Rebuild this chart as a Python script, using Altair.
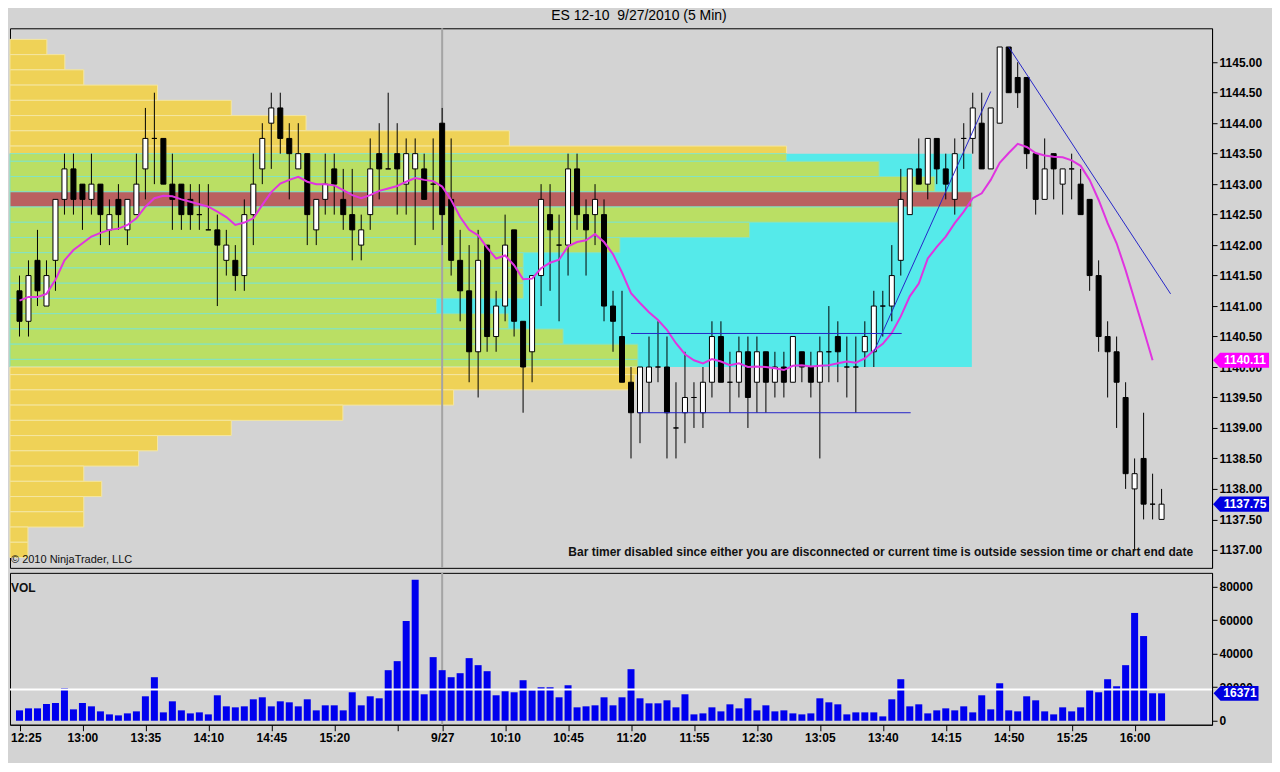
import altair as alt
import pandas as pd

# ---------------- data ----------------
opens = [
    1141.25, 1140.75, 1141.75, 1141.0, 1141.75, 1142.75, 1143.25, 1143.0, 1142.75, 1143.0,
    1142.25, 1142.75, 1142.25, 1142.5, 1143.25, 1143.75, 1143.75, 1143.0, 1143.0, 1142.75,
    1142.5, 1142.25, 1142.25, 1141.75, 1141.75, 1141.5, 1142.5, 1143.25, 1144.0, 1144.25,
    1143.75, 1143.25, 1143.5, 1142.25, 1142.75, 1143.25, 1142.75, 1142.5, 1142.0, 1142.5,
    1143.5, 1143.25, 1143.5, 1143.0, 1143.25, 1143.25, 1143.0, 1144.0, 1142.75, 1141.75,
    1141.25, 1140.25, 1142.0, 1140.5, 1141.0, 1142.25, 1140.75, 1140.25, 1141.5, 1142.5,
    1142.0, 1142.0, 1143.25, 1142.5, 1142.5, 1142.5, 1141.0, 1140.5, 1139.75, 1139.25,
    1139.75, 1140.0, 1140.0, 1139.0, 1139.25, 1139.5, 1139.25, 1139.75, 1140.5, 1139.75,
    1139.75, 1140.25, 1139.75, 1140.25, 1139.75, 1140.0, 1139.75, 1140.25, 1140.0, 1139.75,
    1140.25, 1140.5, 1140.0, 1140.0, 1140.25, 1140.25, 1141.0, 1141.0, 1141.75, 1142.5,
    1143.25, 1143.0, 1143.75, 1143.25, 1142.75, 1143.75, 1143.75, 1144.0, 1143.25, 1144.0,
    1145.25, 1144.75, 1144.75, 1143.5, 1142.75, 1143.5, 1143.0, 1143.25, 1143.0, 1142.75,
    1141.5, 1140.5, 1140.25, 1139.5, 1138.0, 1138.5, 1137.75, 1137.5]
highs = [
    1141.5, 1141.75, 1142.25, 1141.75, 1142.75, 1143.5, 1143.5, 1143.0, 1143.5, 1143.0,
    1142.75, 1143.0, 1142.75, 1143.5, 1144.25, 1144.5, 1143.75, 1143.5, 1143.0, 1143.0,
    1143.0, 1143.0, 1142.5, 1142.25, 1142.0, 1142.75, 1143.5, 1144.0, 1144.5, 1144.5,
    1144.0, 1144.0, 1143.5, 1142.75, 1143.5, 1143.5, 1143.25, 1143.25, 1142.5, 1143.75,
    1144.0, 1144.5, 1144.0, 1143.75, 1143.75, 1143.5, 1143.75, 1144.25, 1143.75, 1142.25,
    1142.0, 1142.25, 1142.0, 1141.25, 1142.5, 1142.25, 1140.75, 1141.5, 1143.0, 1143.0,
    1142.5, 1143.5, 1143.5, 1142.75, 1143.0, 1142.75, 1141.25, 1141.25, 1140.0, 1140.0,
    1140.5, 1140.75, 1140.5, 1139.75, 1140.25, 1139.75, 1140.0, 1140.75, 1140.75, 1140.25,
    1140.5, 1140.5, 1140.5, 1140.25, 1140.25, 1140.25, 1140.5, 1140.25, 1140.25, 1140.5,
    1141.0, 1140.75, 1140.5, 1140.5, 1140.75, 1141.25, 1141.25, 1142.0, 1143.25, 1143.25,
    1143.75, 1143.75, 1143.75, 1143.5, 1143.75, 1144.0, 1144.5, 1144.5, 1144.25, 1145.25,
    1145.25, 1145.0, 1144.75, 1143.5, 1143.75, 1143.5, 1143.25, 1143.5, 1143.25, 1142.75,
    1141.75, 1140.75, 1140.5, 1139.75, 1138.5, 1139.25, 1138.25, 1138.0]
lows = [
    1140.5, 1140.5, 1141.0, 1141.0, 1141.25, 1142.5, 1142.5, 1142.25, 1142.5, 1142.0,
    1142.0, 1142.25, 1142.0, 1142.5, 1142.75, 1143.0, 1143.0, 1142.25, 1142.25, 1142.25,
    1142.25, 1142.25, 1141.0, 1141.5, 1141.25, 1141.25, 1142.0, 1143.0, 1143.25, 1143.5,
    1142.75, 1143.25, 1142.0, 1142.0, 1142.5, 1142.5, 1142.25, 1141.75, 1141.75, 1142.25,
    1142.75, 1143.25, 1142.5, 1142.5, 1142.0, 1142.75, 1142.25, 1142.0, 1141.5, 1140.75,
    1139.75, 1139.5, 1140.25, 1140.25, 1140.75, 1140.5, 1139.25, 1139.75, 1141.0, 1141.25,
    1140.75, 1141.5, 1142.25, 1141.5, 1142.0, 1140.75, 1140.25, 1139.75, 1138.5, 1138.75,
    1139.25, 1139.75, 1138.5, 1138.5, 1138.75, 1139.0, 1139.0, 1139.5, 1139.75, 1139.25,
    1139.5, 1139.0, 1139.25, 1139.25, 1139.5, 1139.5, 1139.75, 1139.75, 1139.5, 1138.5,
    1139.75, 1139.75, 1139.5, 1139.25, 1140.0, 1140.0, 1140.5, 1140.75, 1141.5, 1142.5,
    1143.0, 1142.75, 1143.0, 1142.75, 1142.5, 1143.25, 1143.5, 1143.25, 1143.25, 1144.0,
    1144.5, 1144.25, 1143.25, 1142.5, 1142.75, 1142.75, 1142.5, 1142.75, 1142.5, 1141.25,
    1140.25, 1139.5, 1139.0, 1138.0, 1137.0, 1137.5, 1137.5, 1137.5]
closes = [
    1140.75, 1141.5, 1141.25, 1141.5, 1142.75, 1143.25, 1142.75, 1142.75, 1143.0, 1142.5,
    1142.5, 1142.5, 1142.75, 1143.0, 1143.75, 1143.75, 1143.0, 1142.75, 1142.5, 1142.5,
    1142.5, 1142.25, 1142.0, 1142.0, 1141.5, 1142.5, 1143.0, 1143.75, 1144.25, 1143.75,
    1143.5, 1143.5, 1142.5, 1142.75, 1143.0, 1143.0, 1142.5, 1142.25, 1142.25, 1143.25,
    1143.25, 1143.25, 1143.25, 1143.5, 1143.5, 1142.75, 1143.0, 1142.5, 1141.75, 1141.25,
    1140.25, 1141.75, 1140.5, 1141.0, 1142.0, 1140.75, 1140.0, 1141.5, 1142.75, 1142.25,
    1142.0, 1143.25, 1142.5, 1142.25, 1142.75, 1141.0, 1140.75, 1139.75, 1139.25, 1140.0,
    1140.0, 1140.0, 1139.25, 1139.0, 1139.5, 1139.5, 1139.75, 1140.5, 1139.75, 1139.75,
    1140.25, 1139.5, 1140.25, 1139.75, 1140.0, 1139.75, 1140.5, 1140.0, 1139.75, 1140.25,
    1140.25, 1140.25, 1140.0, 1140.0, 1140.5, 1141.0, 1141.0, 1141.5, 1142.75, 1143.25,
    1143.0, 1143.75, 1143.25, 1143.0, 1143.5, 1143.75, 1144.25, 1143.25, 1144.25, 1145.25,
    1144.5, 1144.5, 1143.5, 1142.75, 1143.25, 1143.25, 1143.25, 1143.25, 1142.5, 1141.5,
    1140.5, 1140.25, 1139.75, 1138.25, 1138.25, 1137.75, 1137.75, 1137.75]
volumes = [
    6200, 7400, 7400, 10000, 10600, 19400, 6800, 10600, 8600, 5600,
    3800, 3200, 4400, 5600, 14600, 26000, 5000, 11600, 6200, 4400,
    5000, 3800, 15200, 8600, 8000, 8600, 12800, 14000, 8600, 11600,
    11000, 8600, 12800, 6200, 9200, 9200, 6200, 17000, 9200, 14600,
    13400, 30200, 35600, 59600, 84200, 15800, 38000, 30200, 26000, 28400,
    37400, 33200, 29600, 15200, 17600, 17000, 24200, 18200, 20000, 20000,
    14000, 21200, 8000, 8600, 9200, 14000, 9200, 14000, 30800, 13400,
    10400, 10400, 12200, 8000, 15800, 3800, 4400, 8000, 5600, 9800,
    7400, 13400, 6200, 9200, 5600, 6200, 4400, 3800, 4400, 13400,
    11000, 9800, 3800, 5000, 5000, 5000, 2600, 12800, 24800, 8600,
    9800, 4400, 6200, 7400, 6200, 8600, 5000, 15200, 6800, 22400,
    6200, 5600, 14600, 12200, 5600, 3800, 8000, 5600, 8000, 18800,
    17000, 24800, 20600, 33200, 64400, 50600, 16400, 16371]
sma14 = [
    1141.09, 1141.15, 1141.15, 1141.2, 1141.43, 1141.75, 1141.92, 1142.03, 1142.14, 1142.2,
    1142.25, 1142.27, 1142.33, 1142.44, 1142.63, 1142.77, 1142.81, 1142.8, 1142.75, 1142.71,
    1142.67, 1142.63, 1142.55, 1142.46, 1142.33, 1142.37, 1142.44, 1142.66, 1142.87, 1143.01,
    1143.07, 1143.12, 1143.04, 1143.0, 1143.0, 1142.98, 1142.9, 1142.82, 1142.77, 1142.82,
    1142.89, 1142.93, 1142.97, 1143.04, 1143.1, 1143.07, 1143.05, 1142.96, 1142.74, 1142.46,
    1142.25, 1142.16, 1141.96, 1141.78, 1141.83, 1141.67, 1141.44, 1141.45, 1141.62, 1141.71,
    1141.76, 1141.98, 1142.05, 1142.08, 1142.18, 1142.05, 1141.85, 1141.55, 1141.21, 1141.05,
    1140.9, 1140.77, 1140.61, 1140.39, 1140.21, 1140.11, 1140.06, 1140.13, 1140.09, 1140.03,
    1140.06, 1140.0, 1140.01, 1140.0, 1139.98, 1139.95, 1140.02, 1140.03, 1140.01, 1140.02,
    1140.03, 1140.06, 1140.09, 1140.07, 1140.14, 1140.27, 1140.38, 1140.56, 1140.83, 1141.16,
    1141.37, 1141.78, 1141.97, 1142.14, 1142.36, 1142.55, 1142.77, 1142.85, 1143.07, 1143.35,
    1143.51, 1143.66, 1143.61, 1143.51, 1143.47, 1143.45, 1143.44, 1143.39, 1143.3, 1143.07,
    1142.74, 1142.36, 1142.03, 1141.59, 1141.1, 1140.61, 1140.11]

# volume-at-price profile (relative units)
profile_prices = [1145.25, 1145.0, 1144.75, 1144.5, 1144.25, 1144.0, 1143.75, 1143.5,
                  1143.25, 1143.0, 1142.75, 1142.5, 1142.25, 1142.0, 1141.75, 1141.5,
                  1141.25, 1141.0, 1140.75, 1140.5, 1140.25, 1140.0, 1139.75, 1139.5,
                  1139.25, 1139.0, 1138.75, 1138.5, 1138.25, 1138.0, 1137.75, 1137.5,
                  1137.25, 1137.0]
profile_vol = [37, 55, 74, 148, 222, 297, 501, 779,
               872, 928, 965, 892, 742, 612, 515, 515,
               515, 428, 500, 555, 630, 630, 627, 445,
               334, 222, 148, 129, 74, 92, 74, 74,
               18, 18]
poc_price = 1142.75
va_high = 1143.5
va_low = 1140.0

# drawn trend lines: (bar1, price1, bar2, price2)
line_x1 = [69.0, 69.8, 96.0, 111.0]
line_p1 = [1140.55, 1139.25, 1140.25, 1145.25]
line_x2 = [99.1, 100.1, 109.0, 129.0]
line_p2 = [1140.55, 1139.25, 1144.52, 1141.2]

session_break_bar = 48
vol_hline = 18600

time_tick_idx = [1, 8, 15, 22, 29, 36, 43, 48, 55, 62, 69, 76, 83, 90, 97, 104, 111, 118, 125]
time_tick_lbl = ["12:25", "13:00", "13:35", "14:10", "14:45", "15:20", "", "9/27", "10:10",
                 "10:45", "11:20", "11:55", "12:30", "13:05", "13:40", "14:15", "14:50",
                 "15:25", "16:00"]
price_ticks = [1137.0, 1137.5, 1138.0, 1138.5, 1139.0, 1139.5, 1140.0, 1140.5, 1141.0,
               1141.5, 1142.0, 1142.5, 1143.0, 1143.5, 1144.0, 1144.5, 1145.0]
vol_ticks = [0, 20000, 40000, 60000, 80000]

# ---------------- layout constants ----------------
PW, PH, VH = 1203, 540, 152
BAR_PX = 9.0
X_LO = 1 - 9.5 / BAR_PX
X_HI = X_LO + PW / BAR_PX
FONT = "Liberation Sans"
BG = "#D3D3D3"

bars = list(range(1, len(opens) + 1))
candles = pd.DataFrame({"i": bars, "o": opens, "h": highs, "l": lows, "c": closes,
                        "v": volumes})
candles["dir"] = ["up" if c > o else "down" for o, c in zip(opens, closes)]
sma_df = pd.DataFrame({"i": bars[:len(sma14)], "s": sma14})
lines_df = pd.DataFrame({"x1": line_x1, "p1": line_p1, "x2": line_x2, "p2": line_p2})

HALF = 0.125
segs = []
for p, v in zip(profile_prices, profile_vol):
    lo, hi = p - HALF, p + HALF
    if p == poc_price:
        segs.append(dict(lo=lo, hi=hi, v=v, zone="poc"))
    elif va_low < p < va_high:
        segs.append(dict(lo=lo, hi=hi, v=v, zone="va"))
    elif p == va_high:
        segs.append(dict(lo=p, hi=hi, v=v, zone="out"))
        segs.append(dict(lo=lo, hi=p, v=v, zone="va"))
    elif p == va_low:
        segs.append(dict(lo=p, hi=hi, v=v, zone="va"))
        segs.append(dict(lo=lo, hi=p, v=v, zone="out"))
    else:
        segs.append(dict(lo=lo, hi=hi, v=v, zone="out"))
prof_df = pd.DataFrame(segs)
prof_df["z0"] = 0
va_box = pd.DataFrame({"z0": [0], "v": [max(profile_vol)], "lo": [va_low], "hi": [va_high]})

# ---------------- scales / axes ----------------
price_scale = alt.Scale(domain=[1136.705, 1145.557], nice=False, zero=False)
time_scale = alt.Scale(domain=[X_LO, X_HI], nice=False, zero=False, padding=0)
prof_scale = alt.Scale(domain=[0, 1206], nice=False, zero=False, padding=0)
vol_scale = alt.Scale(domain=[-2388, 88356], nice=False, zero=False)

price_axis = alt.Axis(orient="right", values=price_ticks, format=".2f", title=None, grid=False,
                      tickSize=5, labelPadding=2, labelOverlap=False)
vol_axis = alt.Axis(orient="right", values=vol_ticks, format="d", title=None, grid=False,
                    tickSize=5, labelPadding=2, labelOverlap=False)
lbl_expr = "[" + ",".join("'%s'" % s for s in time_tick_lbl) + "][indexof([" + \
    ",".join(str(v) for v in time_tick_idx) + "], datum.value)]"
time_axis = alt.Axis(values=time_tick_idx, labelExpr=lbl_expr, title=None, grid=False,
                     tickSize=6, labelPadding=2, labelOverlap=False,
                     labelFlush=12, labelFlushOffset=9)


def py(field):
    return alt.Y(field, type="quantitative", scale=price_scale, axis=price_axis, title=None)


def px(field):
    return alt.X(field, type="quantitative", scale=time_scale, axis=None, title=None)


# ---------------- price panel ----------------
va_layer = alt.Chart(va_box).mark_rect(color="#55EAEA").encode(
    x=alt.X("z0:Q", scale=prof_scale, axis=None), x2="v:Q", y=py("lo"), y2="hi:Q")

prof_layer = alt.Chart(prof_df).mark_rect(strokeWidth=1).encode(
    x=alt.X("z0:Q", scale=prof_scale, axis=None), x2="v:Q", y=py("lo"), y2="hi:Q",
    fill=alt.Fill("zone:N", scale=alt.Scale(domain=["out", "va", "poc"],
                                           range=["#EFD257", "#BADF64", "#BA6060"]),
                  legend=None),
    stroke=alt.Stroke("zone:N", scale=alt.Scale(domain=["out", "va", "poc"],
                                               range=["#F4E6A2", "#84E4C4", "#84E4C4"]),
                      legend=None))

break_df = pd.DataFrame({"i": [session_break_bar]})
break_layer = alt.Chart(break_df).mark_rule(color="#A4A4A4", strokeWidth=2).encode(x=px("i"))

wick_layer = alt.Chart(candles).mark_rule(color="black", strokeWidth=1).encode(
    x=px("i"), y=py("l"), y2="h:Q")
body_layer = alt.Chart(candles).mark_bar(width=5, stroke="black", strokeWidth=1).encode(
    x=px("i"), y=py("o"), y2="c:Q",
    fill=alt.Fill("dir:N", scale=alt.Scale(domain=["up", "down"], range=["white", "black"]),
                  legend=None))

sma_layer = alt.Chart(sma_df).mark_line(color="#E034E0", strokeWidth=2).encode(
    x=px("i"), y=py("s"))

trend_layer = alt.Chart(lines_df).mark_rule(color="#2626C8", strokeWidth=1).encode(
    x=px("x1"), x2="x2:Q", y=py("p1"), y2="p2:Q")

ARROW_P = "M -1 0 L -0.75 -0.27 L 1 -0.27 L 1 0.27 L -0.75 0.27 Z"
plabels = pd.DataFrame({"p": [sma14[-1], closes[-1]],
                        "t": ["%.2f" % sma14[-1], "%.2f" % closes[-1]],
                        "k": ["sma", "last"]})
plabel_box = alt.Chart(plabels).mark_point(shape=ARROW_P, size=56 * 56, filled=True,
                                           opacity=1, strokeWidth=0).encode(
    x=alt.value(PW + 29), y=py("p"),
    color=alt.Color("k:N", scale=alt.Scale(domain=["sma", "last"],
                                          range=["#FF00FF", "#0000E0"]), legend=None))
plabel_txt = alt.Chart(plabels).mark_text(color="white", font=FONT, fontSize=12,
                                          fontWeight="bold", align="center",
                                          baseline="middle").encode(
    x=alt.value(PW + 33), y=py("p"), text="t:N")

notes = pd.DataFrame({"t": ["Bar timer disabled since either you are disconnected or current "
                            "time is outside session time or chart end date"]})
timer_txt = alt.Chart(notes).mark_text(font=FONT, fontSize=12, fontWeight="bold",
                                       color="#111111", align="right",
                                       baseline="middle").encode(
    x=alt.value(1184), y=alt.value(524), text="t:N")
copy_df = pd.DataFrame({"t": ["\u00a9 2010 NinjaTrader, LLC"]})
copy_txt = alt.Chart(copy_df).mark_text(font=FONT, fontSize=11, color="#111111",
                                        align="left", baseline="middle").encode(
    x=alt.value(1), y=alt.value(532), text="t:N")

price_chart = alt.layer(
    va_layer, prof_layer, break_layer, wick_layer, body_layer, sma_layer, trend_layer,
    plabel_box, plabel_txt, timer_txt, copy_txt
).resolve_scale(
    x="independent", fill="independent", stroke="independent", color="independent"
).properties(width=PW, height=PH)

# ---------------- volume panel ----------------
def vx(field):
    return alt.X(field, type="quantitative", scale=time_scale, axis=time_axis, title=None)


def vy(field):
    return alt.Y(field, type="quantitative", scale=vol_scale, axis=vol_axis, title=None)


vbreak = alt.Chart(break_df).mark_rule(color="#A4A4A4", strokeWidth=2).encode(x=vx("i"))
vbars = alt.Chart(candles).mark_bar(width=7, color="#0000EE").encode(
    x=vx("i"), y=vy("v"), y2=alt.datum(0))
hline_df = pd.DataFrame({"v": [vol_hline]})
vhline = alt.Chart(hline_df).mark_rule(color="white", strokeWidth=2).encode(y=vy("v"))
vol_txt = alt.Chart(pd.DataFrame({"t": ["VOL"]})).mark_text(
    font=FONT, fontSize=12, fontWeight="bold", color="#111111", align="left",
    baseline="middle").encode(x=alt.value(1), y=alt.value(15), text="t:N")
ARROW_V = "M -1 0 L -0.69 -0.33 L 1 -0.33 L 1 0.33 L -0.69 0.33 Z"
vlab = pd.DataFrame({"v": [volumes[-1]], "t": [str(volumes[-1])]})
vlab_box = alt.Chart(vlab).mark_point(shape=ARROW_V, size=45 * 45, filled=True, opacity=1,
                                      strokeWidth=0, color="#0000E0").encode(
    x=alt.value(PW + 24), y=vy("v"))
vlab_txt = alt.Chart(vlab).mark_text(color="white", font=FONT, fontSize=12, fontWeight="bold",
                                     align="center", baseline="middle").encode(
    x=alt.value(PW + 28), y=vy("v"), text="t:N")

vol_chart = alt.layer(vbreak, vbars, vhline, vol_txt, vlab_box, vlab_txt).properties(
    width=PW, height=VH)

chart = alt.vconcat(
    price_chart, vol_chart, spacing=1,
    title=alt.Title("ES 12-10\u00a0 9/27/2010 (5 Min)", fontSize=14, fontWeight="normal",
                    font=FONT, color="black", anchor="middle", offset=4),
).properties(
    background=BG,
    padding={"left": 0, "top": 0, "right": 2, "bottom": 18},
).configure_view(
    stroke="black", strokeWidth=1
).configure_axis(
    labelFont=FONT, labelFontWeight="bold", labelFontSize=12, labelColor="black",
    domainColor="black", tickColor="black", domainWidth=1, tickWidth=1
)

chart.save("out.html", embed_options={"renderer": "svg", "actions": False})
